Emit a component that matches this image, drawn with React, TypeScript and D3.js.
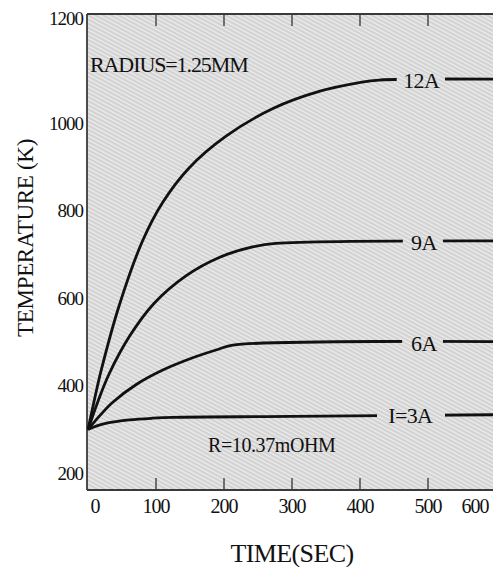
import React from 'react';
import * as d3 from 'd3';

const W = 493, H = 567;
const PLOT = { left: 87, top: 14, right: 500, bottom: 490 };
const SERIF = '"Liberation Serif", "DejaVu Serif", serif';

// values (time in s, temperature in K)
const TIME_12A = [0, 10, 19, 46, 80, 110, 149, 203, 272, 340, 399, 428, 600];
const TEMP_12A = [300, 372, 433, 584, 730, 819, 898, 970, 1033, 1072, 1092, 1098, 1100];
const TIME_9A = [0, 15, 31, 61, 97, 144, 193, 242, 276, 600];
const TEMP_9A = [300, 366, 427, 513, 588, 651, 693, 717, 725, 731];
const TIME_6A = [0, 18, 36, 71, 110, 154, 193, 213, 600];
const TEMP_6A = [300, 333, 362, 403, 436, 464, 484, 493, 501];
const TIME_3A = [0, 12, 26, 61, 95, 125, 300, 600];
const TEMP_3A = [300, 308, 314, 322, 326, 328, 330, 334];

const SERIES_LABELS = ['12A', '9A', '6A', 'I=3A'];
const X_TICKS = [0, 100, 200, 300, 400, 500, 600];
const Y_TICKS = [200, 400, 600, 800, 1000, 1200];

// where each curve label sits (label centre, gap start, gap end), in seconds
const LABEL_AT = [
  [490, 454, 525],
  [494, 463, 522],
  [494, 462, 522],
  [474, 425, 525],
];

const series = [
  [TIME_12A, TEMP_12A],
  [TIME_9A, TEMP_9A],
  [TIME_6A, TEMP_6A],
  [TIME_3A, TEMP_3A],
].map(([ts, vs], i) => ({
  label: SERIES_LABELS[i],
  points: ts.map((t, j) => ({ t, v: vs[j] })),
}));

export default function App() {
  const x = d3.scaleLinear().domain([0, 500]).range([88, 428]);
  const y = d3.scaleLinear().domain([200, 1000]).range([473.4, 123]);

  const line = d3.line<{ t: number; v: number }>()
    .x(d => x(d.t))
    .y(d => y(d.v))
    .curve(d3.curveCatmullRom.alpha(0.5));

  const bisect = d3.bisector((d: { t: number }) => d.t).left;
  const valueAt = (pts: { t: number; v: number }[], t: number) => {
    const i = Math.min(Math.max(bisect(pts, t), 1), pts.length - 1);
    const a = pts[i - 1], b = pts[i];
    return a.v + (b.v - a.v) * (t - a.t) / (b.t - a.t);
  };

  return (
    <svg width={W} height={H} style={{ position: 'absolute', left: 0, top: 0, background: '#fff' }}>
      <defs>
        <pattern id="hatch" width="3.6" height="3.6" patternUnits="userSpaceOnUse" patternTransform="rotate(-62)">
          <rect width="3.6" height="3.6" fill="#d2d2d2" />
          <rect width="1.4" height="3.6" fill="#ececec" />
        </pattern>
        <clipPath id="plotClip">
          <rect x={PLOT.left} y={PLOT.top} width={PLOT.right - PLOT.left} height={PLOT.bottom - PLOT.top} />
        </clipPath>
        {series.map((s, i) => (
          <mask id={`gap${i}`} key={i} maskUnits="userSpaceOnUse" x={0} y={0} width={W} height={H}>
            <rect x={0} y={0} width={W} height={H} fill="#fff" />
            <rect x={x(LABEL_AT[i][1])} y={0} width={x(LABEL_AT[i][2]) - x(LABEL_AT[i][1])} height={H} fill="#000" />
          </mask>
        ))}
      </defs>

      <rect x={PLOT.left} y={PLOT.top} width={PLOT.right - PLOT.left} height={PLOT.bottom - PLOT.top} fill="url(#hatch)" />

      {/* ticks */}
      {X_TICKS.filter(t => t > 0).map(t => (
        <g key={t} stroke="#333" strokeWidth={1.3}>
          <line x1={x(t)} x2={x(t)} y1={PLOT.bottom} y2={PLOT.bottom - 12} />
          <line x1={x(t)} x2={x(t)} y1={PLOT.top} y2={PLOT.top + 12} />
        </g>
      ))}

      {/* frame */}
      <g stroke="#3a3a3a" strokeWidth={1.8} fill="none">
        <line x1={PLOT.left} x2={PLOT.left} y1={PLOT.top} y2={PLOT.bottom} />
        <line x1={PLOT.left} x2={PLOT.right} y1={PLOT.top} y2={PLOT.top} />
        <line x1={PLOT.left} x2={PLOT.right} y1={PLOT.bottom} y2={PLOT.bottom} />
      </g>

      {/* curves */}
      <g clipPath="url(#plotClip)">
        {series.map((s, i) => (
          <path key={s.label} d={line(s.points) || ''} fill="none" stroke="#111" strokeWidth={2.8} mask={`url(#gap${i})`} />
        ))}
      </g>

      {/* curve labels */}
      {series.map((s, i) => (
        <text key={s.label} x={x(LABEL_AT[i][0])} y={y(valueAt(s.points, LABEL_AT[i][0])) + 8}
          textAnchor="middle" fontFamily={SERIF} fontSize={22} letterSpacing={-0.6} fill="#111">
          {s.label}
        </text>
      ))}

      {/* annotations */}
      <text x={90} y={72} fontFamily={SERIF} fontSize={22} letterSpacing={-1.1} fill="#111">RADIUS=1.25MM</text>
      <text x={208} y={452} fontFamily={SERIF} fontSize={20} letterSpacing={-0.4} fill="#111">R=10.37mOHM</text>

      {/* y tick labels */}
      {Y_TICKS.map((v, i) => (
        <text key={v} x={83} y={(i === Y_TICKS.length - 1 ? PLOT.top + 4 : y(v)) + 6.5}
          textAnchor="end" fontFamily={SERIF} fontSize={19} letterSpacing={-1} fill="#111">
          {v}
        </text>
      ))}

      {/* x tick labels */}
      {X_TICKS.map((t, i) => (
        <text key={t} x={i === 0 ? x(t) + 7 : Math.min(x(t), 475)} y={513}
          textAnchor="middle" fontFamily={SERIF} fontSize={20} letterSpacing={-1} fill="#111">
          {t}
        </text>
      ))}

      {/* axis titles */}
      <text x={292} y={562} textAnchor="middle" fontFamily={SERIF} fontSize={26} letterSpacing={-0.6} fill="#111">TIME(SEC)</text>
      <text transform="translate(33,238) rotate(-90)" textAnchor="middle" fontFamily={SERIF} fontSize={23} letterSpacing={-0.3} fill="#111">TEMPERATURE (K)</text>
    </svg>
  );
}
